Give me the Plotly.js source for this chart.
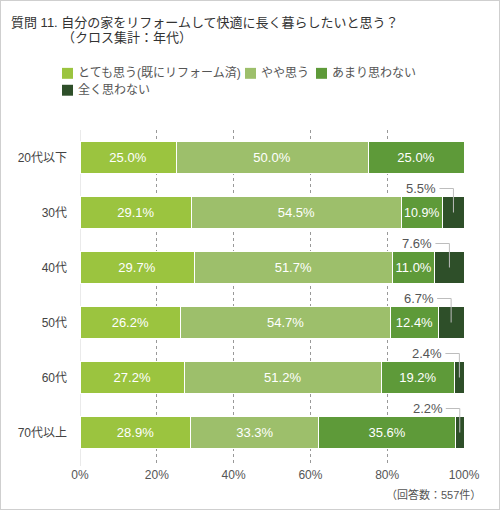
<!DOCTYPE html>
<html>
<head>
<meta charset="utf-8">
<script src="https://cdn.plot.ly/plotly-3.0.1.min.js"></script>
<style>
  body { margin: 0; background: #fff; }
  #chart { width: 500px; height: 510px; box-sizing: border-box; border: 1px solid #cfcfcf; }
</style>
</head>
<body>
<div id="chart"></div>
<script>
var ages = ['20代以下', '30代', '40代', '50代', '60代', '70代以上'];
var names = ['とても思う(既にリフォーム済)', 'やや思う', 'あまり思わない', '全く思わない'];
var veryMuch = [25.0, 29.1, 29.7, 26.2, 27.2, 28.9];
var somewhat = [50.0, 54.5, 51.7, 54.7, 51.2, 33.3];
var notMuch = [25.0, 10.9, 11.0, 12.4, 19.2, 35.6];
var notAtAll = [0, 5.5, 7.6, 6.7, 2.4, 2.2];
var colors = ['#9bc43f', '#9dbf6b', '#5e9a39', '#2e4f29'];
var tickVals = [0, 20, 40, 60, 80, 100];

var font = 'Liberation Sans, Noto Sans CJK JP, sans-serif';
var series = [veryMuch, somewhat, notMuch, notAtAll];

// plot area in page pixels: left 80, width 384, top 130, height 338
function px(x) { return (x - 80) / 384; }
function py(y) { return 1 - (y - 130) / 338; }

var data = [];
for (var s = 0; s < series.length; s++) {
  data.push({
    type: 'bar',
    orientation: 'h',
    name: names[s],
    y: ages,
    x: series[s],
    text: s < 3 ? series[s].map(function (v) { return v.toFixed(1) + '%'; }) : series[s].map(function () { return ''; }),
    textposition: 'inside',
    insidetextanchor: 'middle',
    textfont: { color: '#ffffff', size: 13, family: font },
    marker: { color: colors[s], line: { color: '#ffffff', width: 1 } },
    hoverinfo: 'skip'
  });
}

// callouts for small "全く思わない" values
var annotations = [];
var shapes = [{
  type: 'line', xref: 'x', yref: 'paper', x0: 0, x1: 0, y0: 0, y1: 1,
  line: { color: '#d6d6d6', width: 1 }, layer: 'below'
}];
for (var i = 0; i < ages.length; i++) {
  if (notAtAll[i] <= 0) continue;
  var mid = veryMuch[i] + somewhat[i] + notMuch[i] + notAtAll[i] / 2;
  annotations.push({
    x: mid, y: i, xref: 'x', yref: 'y',
    text: notAtAll[i].toFixed(1) + '%',
    showarrow: false, xanchor: 'right', yanchor: 'middle',
    xshift: -15, yshift: 24,
    font: { size: 13, color: '#555', family: font }
  });
  shapes.push({
    type: 'path', xref: 'x', yref: 'y',
    xsizemode: 'pixel', ysizemode: 'pixel',
    xanchor: mid, yanchor: i,
    path: 'M 0 0 L 0 24 L -14 24',
    line: { color: '#bdbdbd', width: 1 }
  });
}

// legend drawn by hand so the rows wrap like the original
var legendPos = [[62, 73], [245, 73], [316, 73], [62, 90]];
for (var k = 0; k < names.length; k++) {
  var lx = legendPos[k][0], ly = legendPos[k][1];
  shapes.push({
    type: 'rect', xref: 'paper', yref: 'paper',
    x0: px(lx), x1: px(lx + 11), y0: py(ly - 5.5), y1: py(ly + 5.5),
    fillcolor: colors[k], line: { width: 0 }
  });
  annotations.push({
    xref: 'paper', yref: 'paper', x: px(lx + 14), y: py(ly),
    xanchor: 'left', yanchor: 'middle', showarrow: false,
    text: names[k],
    font: { size: 12, color: '#555', family: font }
  });
}

annotations.push({
  xref: 'paper', yref: 'paper', x: px(9), y: py(22),
  xanchor: 'left', yanchor: 'middle', showarrow: false,
  text: '質問 11. 自分の家をリフォームして快適に長く暮らしたいと思う？',
  font: { size: 13, color: '#333', family: font }
});
annotations.push({
  xref: 'paper', yref: 'paper', x: px(60), y: py(37),
  xanchor: 'left', yanchor: 'middle', showarrow: false,
  text: '（クロス集計：年代）',
  font: { size: 13, color: '#333', family: font }
});
annotations.push({
  xref: 'paper', yref: 'paper', x: px(483), y: py(497),
  xanchor: 'right', yanchor: 'middle', showarrow: false,
  text: '（回答数：557件）',
  font: { size: 11, color: '#555', family: font }
});

var layout = {
  width: 498,
  height: 508,
  margin: { l: 79, r: 35, t: 129, b: 43 },
  paper_bgcolor: '#ffffff',
  plot_bgcolor: '#ffffff',
  barmode: 'stack',
  bargap: 0.41,
  font: { family: font, color: '#444', size: 12 },
  showlegend: false,
  xaxis: {
    range: [0, 100],
    tickvals: tickVals,
    ticktext: tickVals.map(function (v) { return v + '%'; }),
    showgrid: true,
    gridcolor: '#999',
    griddash: 'dot',
    gridwidth: 1,
    zeroline: false,
    showline: false,
    ticks: '',
    tickfont: { size: 12, color: '#555' },
    fixedrange: true
  },
  yaxis: {
    type: 'category',
    autorange: 'reversed',
    showgrid: false,
    zeroline: false,
    showline: false,
    ticks: '',
    ticklabelstandoff: 12,
    tickfont: { size: 12, color: '#444' },
    fixedrange: true
  },
  shapes: shapes,
  annotations: annotations
};

Plotly.newPlot('chart', data, layout, { displayModeBar: false, staticPlot: true });
</script>
</body>
</html>
